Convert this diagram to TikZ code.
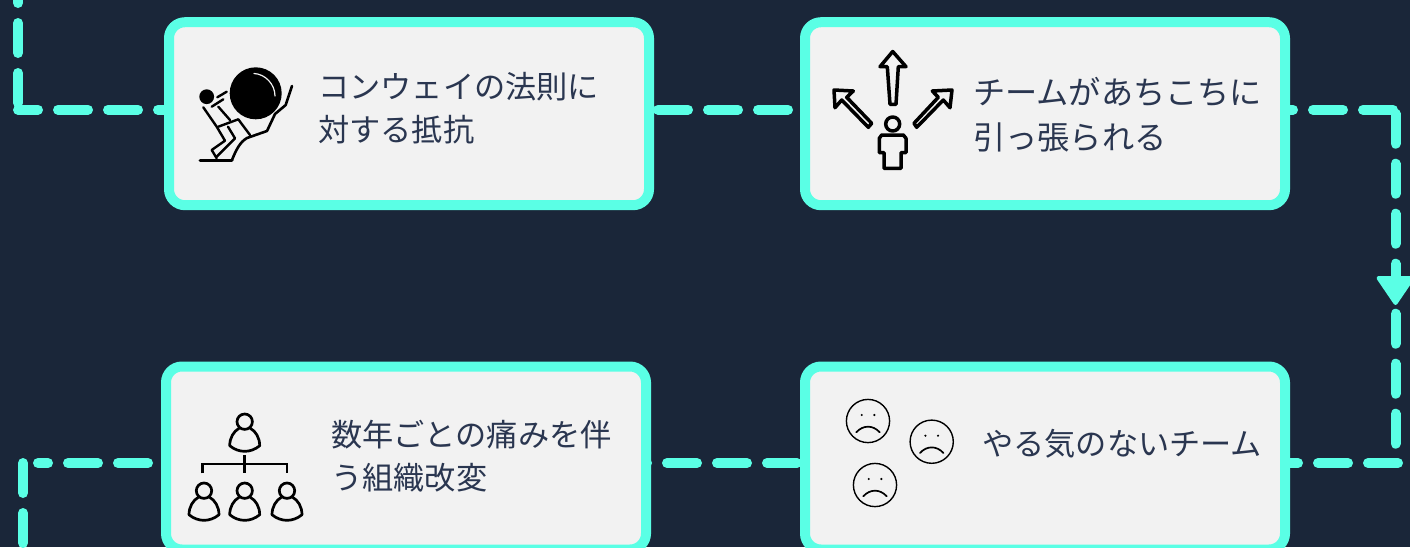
\documentclass[tikz,border=0pt]{standalone}
\usepackage{fontspec}
\setmainfont{Noto Sans CJK JP}
\definecolor{bgc}{HTML}{1A2639}
\definecolor{cy}{HTML}{5AFFE5}
\definecolor{boxc}{HTML}{F2F2F2}
\definecolor{txt}{HTML}{2A3650}
\usetikzlibrary{calc,backgrounds}
\tikzset{
 card/.style={draw=cy,fill=boxc,line width=10pt,rounded corners=16pt,minimum width=480pt,minimum height=183pt,inner sep=0pt,outer sep=0pt},
 flow/.style={draw=cy,line width=10pt,line cap=round,dash pattern=on 30pt off 20pt},
 lab/.style={text=txt,align=left,anchor=west,inner sep=0pt},
 ic/.style={draw=black,line width=3.5pt,line cap=round,line join=round},
 org/.style={draw=black,line width=2.7pt,line cap=butt,line join=miter},
 thin face/.style={draw=black,line width=1.4pt,line cap=round},
}
\newcommand{\person}[2]{%
 \draw[org] (#1,#2) circle (7.7pt);
 \draw[org,line join=round] ($(#1,#2)+(-5.5,6.5)$) .. controls ($(#1,#2)+(-11,9.5)$) and ($(#1,#2)+(-15,16)$) .. ($(#1,#2)+(-15,24)$)
   .. controls ($(#1,#2)+(-6,31.5)$) and ($(#1,#2)+(6,31.5)$) .. ($(#1,#2)+(15,24)$)
   .. controls ($(#1,#2)+(15,16)$) and ($(#1,#2)+(11,9.5)$) .. ($(#1,#2)+(5.5,6.5)$);
}
\newcommand{\sadface}[2]{%
 \draw[thin face] (#1,#2) circle (21.6pt);
 \fill ($(#1,#2)+(-6.3,-6)$) circle (1.2pt);
 \fill ($(#1,#2)+(6.3,-6)$) circle (1.2pt);
 \draw[thin face,line width=1.7pt] ($(#1,#2)+(-11.7,11.3)$) .. controls ($(#1,#2)+(-5,3.8)$) and ($(#1,#2)+(5,3.8)$) .. ($(#1,#2)+(11.7,11.3)$);
}
\begin{document}
\begin{tikzpicture}[x=1pt,y=-1pt]
\useasboundingbox (0,0) rectangle (1410,547);
\begin{pgfonlayer}{background}
\fill[bgc] (0,0) rectangle (1410,547);
\end{pgfonlayer}
% free ends
\coordinate (tl) at (18,-27);
\coordinate (tlc) at (18,109.7);
\coordinate (trc) at (1395.5,109.7);
\coordinate (trh) at (1393,109.7);
\coordinate (brc) at (1395.5,463);
\coordinate (brh) at (1398,463);
\coordinate (blh) at (38,463);
\coordinate (blc) at (23,463);
\coordinate (bl) at (23,560);
% cards
\node[card] (a) at (409,113.7) {};
\node[card] (b) at (1045,113.7) {};
\node[card] (d) at (406,458) {};
\node[card] (c) at (1045,458) {};
% connectors, under the cards
\begin{pgfonlayer}{background}
\draw[flow] (tl) -- (tlc);
\draw[flow,dash phase=10pt] (tlc) -- (a.west |- tlc);
\draw[flow,dash phase=41pt] (a.east |- tlc) -- (b.west |- tlc);
\draw[flow,dash phase=22pt] (b.east |- trh) -- (trh);
\draw[flow,dash phase=46pt] (trc) -- (brc);
\draw[flow,dash phase=17pt] (c.east |- brh) -- (brh);
\draw[flow,dash phase=29pt] (d.east |- brc) -- (c.west |- brc);
\draw[flow,dash phase=20pt] (blh) -- (d.west |- blh);
\draw[flow] (blc) -- (bl);
\fill[cy,draw=cy,line width=4pt,line join=round] (1378.5,278) -- (1412.5,278) -- (1395.5,303) -- cycle;
\end{pgfonlayer}
% labels
\node[lab,font=\fontsize{31.2pt}{42.5pt}\selectfont] (ta) at (318,108) {コンウェイの法則に\\対する抵抗};
\node[lab,font=\fontsize{32.2pt}{45pt}\selectfont] (tb) at (973,115) {チームがあちこちに\\引っ張られる};
\node[lab,font=\fontsize{31.2pt}{43pt}\selectfont] (td) at (331,456.5) {数年ごとの痛みを伴\\う組織改変};
\node[lab,font=\fontsize{31.2pt}{45pt}\selectfont] (tc) at (982,444) {やる気のないチーム};
% sisyphus
\fill[black] (255.7,93.3) circle (26pt);
\draw[draw=boxc,line width=1.2pt,line cap=round] (254,73.5) .. controls (265,74) and (275,84) .. (275,96);
\fill[black] (206.7,96.7) circle (7.4pt);
\draw[ic,line width=3pt] (200,160) -- (232,160);
\draw[ic,line width=2.6pt] (232,160) .. controls (236,150) and (240,142) .. (247,138) -- (267,131) -- (275,114) -- (285.7,105) -- (292,86);
\draw[ic,line width=2.4pt] (203.3,107.3) -- (216.7,126.7) -- (225,140.7) -- (211.7,150) -- (216.7,158.3);
\draw[ic,line width=2.4pt] (218.3,126.7) -- (238.3,119.3) -- (250,135);
\draw[ic,line width=2.4pt] (228,126.7) -- (235,138.3) -- (216.7,156.7);
\draw[ic,line width=2.4pt] (211.7,106.7) -- (223.3,99.3);
\draw[ic,line width=2.4pt] (217.3,97.3) -- (226.7,91.7);
\draw[ic,line width=2.4pt] (218.3,106.7) -- (230,120);
% person with arrows
\draw[ic] (892.7,124) circle (7pt);
\draw[ic] (881.7,135) -- (903.3,135) -- (906,138.3) -- (906,152.7) -- (901,152.7) -- (901,168.3) -- (884,168.3) -- (884,152.7) -- (879.3,152.7) -- (879.3,138.3) -- cycle;
\draw[ic] (892.7,51.5) -- (906,66.7) -- (898.3,66.7) -- (896,104.3) -- (890,104.3) -- (887.3,66.7) -- (880,66.7) -- cycle;
\draw[ic] (834,90) -- (853.3,91) -- (846.7,97.3) -- (871.7,123.3) -- (868.3,127.3) -- (841.7,100) -- (835,107.7) -- cycle;
\draw[ic] (952,90) -- (950,107.7) -- (943.3,100) -- (916.7,127.3) -- (914,123.3) -- (938.3,97.3) -- (932.3,91) -- cycle;
% org chart
\person{244.7}{421.7}
\person{204}{490.7}
\person{244.7}{490.7}
\person{287}{490.7}
\draw[org] (202.3,473.3) -- (202.3,464) -- (287,464) -- (287,473.3);
\draw[org] (244.7,455) -- (244.7,473.3);
% faces
\sadface{868}{421}
\sadface{931.7}{441.7}
\sadface{875}{485}
\end{tikzpicture}
\end{document}
